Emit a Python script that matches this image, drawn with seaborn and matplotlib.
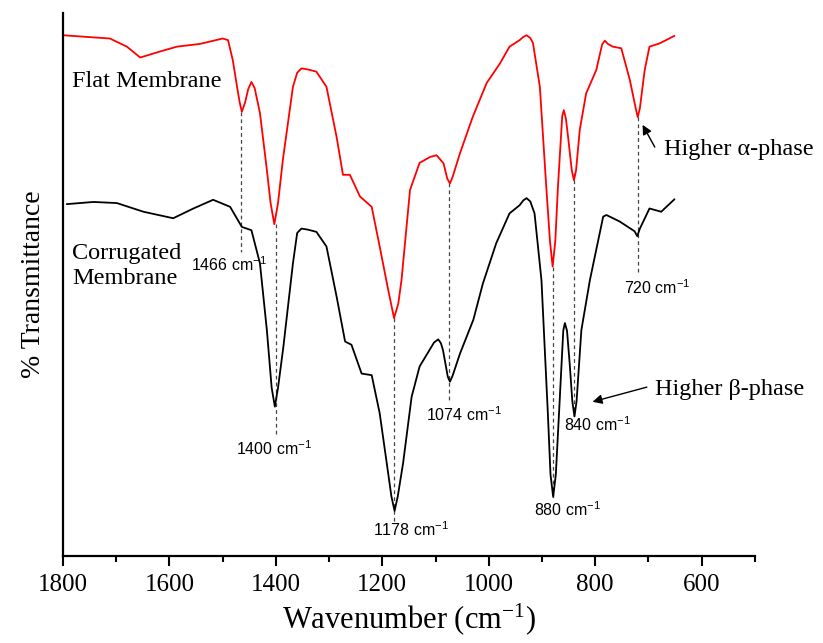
import numpy as np
import pandas as pd
import matplotlib
matplotlib.use("Agg")
import matplotlib.pyplot as plt
import seaborn as sns

# ---- data ----
flat_wn = [1800, 1712, 1680, 1655, 1618, 1586, 1543, 1500, 1490, 1481, 1473, 1468, 1464,
           1458, 1452, 1446, 1440, 1430, 1417, 1410, 1403, 1396, 1387, 1368, 1360, 1352,
           1340, 1324, 1305, 1286, 1274, 1261, 1242, 1220, 1205, 1190, 1178, 1170, 1164,
           1148, 1130, 1110, 1098, 1085, 1078, 1073, 1068, 1054, 1030, 1004, 979, 961,
           942, 935, 929, 922, 917, 904, 892, 885, 880, 875, 870, 862, 859, 855, 851,
           844, 840, 836, 829, 817, 798, 787, 782, 776, 767, 751, 735, 724, 720, 716,
           707, 698, 679, 651]
flat_t = [95.9, 95.3, 93.8, 91.8, 92.9, 93.8, 94.3, 95.3, 95.0, 91.3, 86.4, 83.5, 81.8,
          83.5, 86.0, 87.3, 86.2, 81.6, 71.1, 65.0, 61.1, 65.0, 72.9, 86.4, 89.0, 89.8,
          89.6, 89.2, 86.4, 77.2, 70.2, 70.2, 66.2, 64.3, 57.0, 49.5, 43.8, 46.5, 50.8,
          67.4, 72.4, 73.5, 73.8, 72.3, 69.5, 68.6, 69.8, 74.2, 80.9, 87.1, 90.7, 93.8,
          95.0, 95.6, 95.9, 95.4, 94.5, 86.4, 68.0, 58.0, 53.3, 58.0, 68.0, 81.0, 82.1,
          80.5, 77.2, 71.0, 69.2, 71.0, 78.5, 85.2, 89.5, 94.2, 94.9, 94.3, 93.8, 93.5,
          87.7, 82.5, 80.8, 82.5, 89.5, 93.8, 94.4, 95.8]

corr_wn = [1793, 1743, 1699, 1649, 1593, 1555, 1518, 1486, 1464, 1446, 1430, 1417,
           1408, 1402, 1396, 1386, 1368, 1360, 1352, 1340, 1324, 1305, 1286, 1270, 1258,
           1239, 1220, 1205, 1189, 1183, 1177, 1171, 1161, 1145, 1130, 1103, 1095, 1090,
           1086, 1077, 1073, 1068, 1054, 1029, 1011, 986, 961, 942, 935, 929, 922, 914,
           901, 889, 884, 879, 874, 868, 860, 857, 853, 848, 843, 839, 835, 826, 810,
           785, 779, 754, 726, 721, 716, 698, 676, 651]
corr_t = [64.8, 65.2, 65.0, 63.4, 62.2, 64.0, 65.6, 64.3, 60.6, 60.0, 53.9, 41.6,
          31.0, 27.5, 31.0, 38.5, 53.9, 59.5, 60.3, 60.1, 59.7, 57.0, 47.8, 39.5, 38.9,
          33.6, 33.3, 26.3, 15.2, 11.0, 8.3, 11.0, 17.1, 29.3, 34.9, 39.3, 39.9, 39.2,
          37.9, 33.0, 32.1, 33.2, 37.3, 43.5, 50.2, 57.6, 63.1, 64.6, 65.5, 65.9, 65.3,
          63.1, 50.8, 26.3, 15.0, 10.9, 15.0, 26.3, 41.5, 42.9, 41.5, 35.5, 28.5, 25.7,
          28.5, 41.6, 50.8, 62.5, 62.8, 61.6, 59.8, 58.9, 60.3, 64.0, 63.4, 65.7]

# peak markers: position, dashed line top/bottom, label position
peak_wn = [1466, 1400, 1178, 1074, 880, 840, 720]
peak_line_top = [81.8, 61.1, 43.8, 68.6, 53.3, 70.5, 80.8]
peak_line_bot = [56.0, 21.9, 6.1, 28.7, 10.3, 25.7, 51.7]
peak_label_x = [1488, 1404, 1146, 1047, 852, 795, 683]
peak_label_y = [53.6, 19.7, 4.8, 26.0, 8.5, 24.1, 49.5]

x_ticks = [1800, 1600, 1400, 1200, 1000, 800, 600]

flat_df = pd.DataFrame({"wn": flat_wn, "T": flat_t})
corr_df = pd.DataFrame({"wn": corr_wn, "T": corr_t})

sns.set_style("white")
plt.rcParams["font.family"] = ["Liberation Serif", "DejaVu Serif"]
plt.rcParams["mathtext.fontset"] = "custom"
plt.rcParams["mathtext.rm"] = "Liberation Sans"
plt.rcParams["text.color"] = "black"
plt.rcParams["axes.labelcolor"] = "black"
plt.rcParams["xtick.color"] = "black"

fig = plt.figure(figsize=(8.23, 6.43), dpi=100)
ax = fig.add_axes([0.0766, 0.1353, 0.8406, 0.8445])

sns.lineplot(data=flat_df, x="wn", y="T", color="#ff0000", lw=1.3, ax=ax,
             estimator=None, sort=False, solid_joinstyle="round")
sns.lineplot(data=corr_df, x="wn", y="T", color="#000000", lw=1.3, ax=ax,
             estimator=None, sort=False, solid_joinstyle="round")

for wn, top, bot in zip(peak_wn, peak_line_top, peak_line_bot):
    ax.plot([wn, wn], [top, bot], ls=(0, (3, 2.5)), color="#444444", lw=0.9, zorder=1)

for wn, lx, ly in zip(peak_wn, peak_label_x, peak_label_y):
    ax.text(lx, ly, f"{wn} cm$\\mathregular{{^{{-1}}}}$", ha="center", va="center",
            fontsize=11.5, family=["Liberation Sans", "DejaVu Sans"], color="black")

ax.text(1783, 87.3, "Flat Membrane", fontsize=17.5, ha="left", va="center")
ax.text(1783, 53.4, "Corrugated\nMembrane", fontsize=17.5, ha="left", va="center",
        linespacing=1.2)

ax.annotate("", xy=(711, 79.4), xytext=(688, 75.3),
            arrowprops=dict(arrowstyle="-|>", color="black", lw=1.0,
                            mutation_scale=14, shrinkA=0, shrinkB=0))
ax.text(670, 74.8, "Higher α-phase", fontsize=17.5, ha="left", va="center")
ax.annotate("", xy=(805, 28.4), xytext=(703, 31.1),
            arrowprops=dict(arrowstyle="-|>", color="black", lw=1.0,
                            mutation_scale=14, shrinkA=0, shrinkB=0))
ax.text(688, 30.6, "Higher β-phase", fontsize=17.5, ha="left", va="center")

ax.set_xlim(1800, 500)
ax.set_ylim(0, 100)
ax.set_xticks(x_ticks)
ax.set_xticklabels([str(t) for t in x_ticks], fontsize=18)
ax.set_xticks([1700, 1500, 1300, 1100, 900, 700, 500], minor=True)
ax.set_yticks([])
ax.tick_params(axis="x", which="major", direction="out", length=7, width=1.5,
               bottom=True, pad=6, colors="black")
ax.tick_params(axis="x", which="minor", direction="out", length=4.5, width=1.5,
               bottom=True)
for s in ["top", "right"]:
    ax.spines[s].set_visible(False)
for s in ["left", "bottom"]:
    ax.spines[s].set_linewidth(1.6)
    ax.spines[s].set_color("black")

ax.set_xlabel("Wavenumber (cm$\\mathregular{^{-1}}$)", fontsize=22, labelpad=4)
ax.set_ylabel("% Transmittance", fontsize=20, labelpad=12)

fig.savefig("out.png", dpi=100)
